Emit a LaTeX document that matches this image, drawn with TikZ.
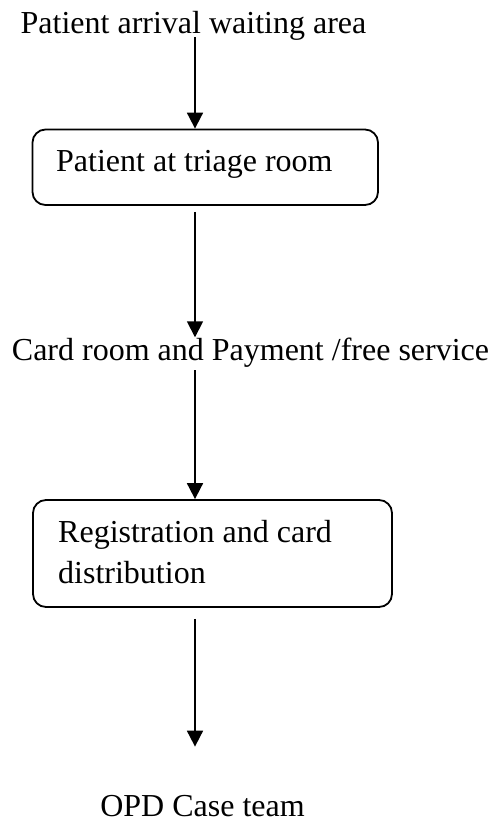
\documentclass[tikz,border=0pt]{standalone}
\usepackage{fontspec}
\setmainfont{Liberation Serif}
\usetikzlibrary{arrows.meta}
\begin{document}
\begin{tikzpicture}[x=1pt,y=-1pt,
  lbl/.style={inner sep=0pt, font=\fontsize{32}{41}\selectfont},
  box/.style={draw, line width=1.8pt, rounded corners=13pt, inner sep=0pt},
  arr/.style={draw, line width=1.8pt, -{Triangle[width=16pt,length=16pt]}}]
\useasboundingbox (0,0) rectangle (493,823);
\coordinate (ax) at (195,0);
\node[lbl, anchor=base] (top) at (193.5,33) {Patient arrival waiting area};
\node[box, minimum width=345.5pt, minimum height=75.5pt] (box1) at (205.25,167.25) {};
\node[lbl, anchor=base west] (t1) at (56,171) {Patient at triage room};
\node[lbl, anchor=base] (card) at (250.5,360) {Card room and Payment /free service};
\node[box, minimum width=359pt, minimum height=107pt] (box2) at (212.5,553.5) {};
\node[lbl, anchor=north west, align=left] (t2) at (58,520) {Registration and card\\distribution};
\node[lbl, anchor=base] (opd) at (202.5,816) {OPD Case team};
\draw[arr, shorten <=-3pt] (top.south -| ax) -- (box1.north -| ax);
\draw[arr, shorten <=6pt] (box1.south -| ax) -- (card.north -| ax);
\draw[arr, shorten <=3pt] (card.south -| ax) -- (box2.north -| ax);
\draw[arr, shorten <=11pt, shorten >=48pt] (box2.south -| ax) -- (opd.north -| ax);
\end{tikzpicture}
\end{document}
